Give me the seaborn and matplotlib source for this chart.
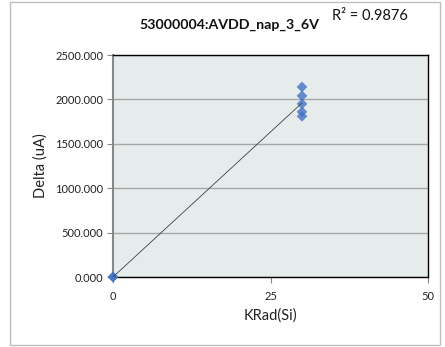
import matplotlib
matplotlib.use("Agg")
import matplotlib.pyplot as plt
import matplotlib.ticker as mticker
from matplotlib.patches import Rectangle
import numpy as np
import pandas as pd
import seaborn as sns

# Dose (KRad(Si)) and supply-current delta (uA) per measured part
dose = [0, 0, 30, 30, 30, 30, 30]
delta = [0.0, 0.0, 2140.0, 2040.0, 1950.0, 1860.0, 1810.0]

title = "53000004:AVDD_nap_3_6V"
r2_label = "R\u00b2 = 0.9876"
x_ticks = [0, 25, 50]
y_ticks = [0, 500, 1000, 1500, 2000, 2500]

df = pd.DataFrame({"KRad(Si)": dose, "Delta (uA)": delta})

sns.set_theme(style="white")
plt.rcParams["font.family"] = ["Lato", "DejaVu Sans"]

fig = plt.figure(figsize=(4.45, 3.47), dpi=100)
ax = fig.add_axes([113 / 445, 1 - 277 / 347, (428 - 113) / 445, (277 - 55) / 347])

sns.regplot(
    data=df, x="KRad(Si)", y="Delta (uA)", ax=ax, ci=None, marker="D",
    scatter_kws={"color": "#4472C4", "s": 30, "edgecolor": "none",
                 "clip_on": False, "zorder": 3},
    line_kws={"color": "#404040", "lw": 0.6, "zorder": 4},
)

ax.set_facecolor("#E6ECEC")
ax.set_xlim(0, 50)
ax.set_ylim(0, 2500)
ax.set_xticks(x_ticks)
ax.set_yticks(y_ticks)
ax.yaxis.set_major_formatter(mticker.FormatStrFormatter("%.3f"))
ax.grid(axis="y", color="#A6A6A6", lw=1.0)
ax.set_axisbelow(True)

for side in ("top", "right", "bottom"):
    ax.spines[side].set_color("#000000")
    ax.spines[side].set_linewidth(1.0)
ax.spines["left"].set_color("#888888")
ax.spines["left"].set_linewidth(1.5)

ax.tick_params(axis="both", which="major", length=4, width=0.8,
               color="#888888", labelsize=8, labelcolor="#222222",
               direction="out", left=True, bottom=True)
ax.tick_params(axis="x", pad=6)
ax.tick_params(axis="y", pad=3)

ax.set_xlabel("KRad(Si)", fontsize=10.5, color="#222222", labelpad=5)
ax.set_ylabel("Delta (uA)", fontsize=10.5, color="#222222", labelpad=5)

fig.text(229 / 445, 1 - 25 / 347, title, ha="center", va="center",
         fontsize=10.2, fontweight="bold", color="#111111")
fig.text(370 / 445, 1 - 16 / 347, r2_label, ha="center", va="center",
         fontsize=10.5, color="#111111")

# Outer chart-area frame
fig.patches.append(Rectangle((10 / 445, 1 - 345 / 347), (440 - 10) / 445, (345 - 2) / 347,
                             transform=fig.transFigure, fill=False,
                             edgecolor="#BFBFBF", lw=1.0))

fig.savefig("out.png", dpi=100, facecolor="white")
